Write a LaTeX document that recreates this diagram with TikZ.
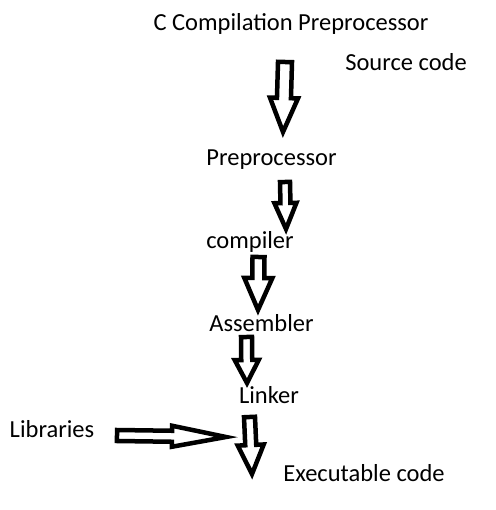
\documentclass[tikz,border=0pt]{standalone}
\usepackage{fontspec}
\setmainfont{Carlito}
\usetikzlibrary{calc}

\tikzset{
  stage/.style={font=\fontsize{24.5}{28}\selectfont,inner sep=0pt,anchor=base},
  blockline/.style={draw=black,line width=4.5pt,line join=miter,fill=white}
}
% hollow block arrow: start, tip, shaft half-width, head half-width, head length
\newcommand{\blockarrow}[5]{%
  \coordinate (hb) at ($(#2)!#5!(#1)$);
  \draw[blockline] ($(#1)!#3!-90:(#2)$) -- ($(hb)!#3!-90:(#2)$)
    -- ($(hb)!#4!-90:(#2)$) -- (#2) -- ($(hb)!#4!90:(#2)$)
    -- ($(hb)!#3!90:(#2)$) -- ($(#1)!#3!90:(#2)$) -- cycle;
}

\begin{document}
\begin{tikzpicture}[x=1pt,y=-1pt]
  \useasboundingbox[fill=white] (0,0) rectangle (495,510);

  \node[stage] (title) at (291,31) {C Compilation Preprocessor};
  \node[stage] (src) at (406,71) {Source code};
  \node[stage] (pre) at (271.5,166) {Preprocessor};
  \node[stage] (comp) at (250,248) {compiler};
  \node[stage] (asm) at (261.5,331) {Assembler};
  \node[stage] (link) at (269,403) {Linker};
  \node[stage] (lib) at (52,437) {Libraries};
  \node[stage] (exe) at (364,481) {Executable code};

  % arrow ends
  \coordinate (a1s) at (285,62);    \coordinate (a1e) at (283,132);
  \coordinate (a2s) at (285,182);   \coordinate (a2e) at (286,229);
  \coordinate (a3s) at (258.5,257); \coordinate (a3e) at (258,310);
  \coordinate (a4s) at (246.5,337); \coordinate (a4e) at (247,383);
  \coordinate (a5s) at (249.5,417); \coordinate (a5e) at (252,474);
  \coordinate (lbs) at (117,435.5); \coordinate (lbe) at (226,437);

  \blockarrow{a1s}{a1e}{7pt}{14pt}{34pt}
  \blockarrow{a2s}{a2e}{5pt}{11pt}{26pt}
  \blockarrow{a3s}{a3e}{6pt}{14pt}{32pt}
  \blockarrow{a4s}{a4e}{5.5pt}{12pt}{23pt}
  \blockarrow{a5s}{a5e}{5.5pt}{13pt}{29pt}
  \blockarrow{lbs}{lbe}{5.5pt}{10.5pt}{54pt}
\end{tikzpicture}
\end{document}
